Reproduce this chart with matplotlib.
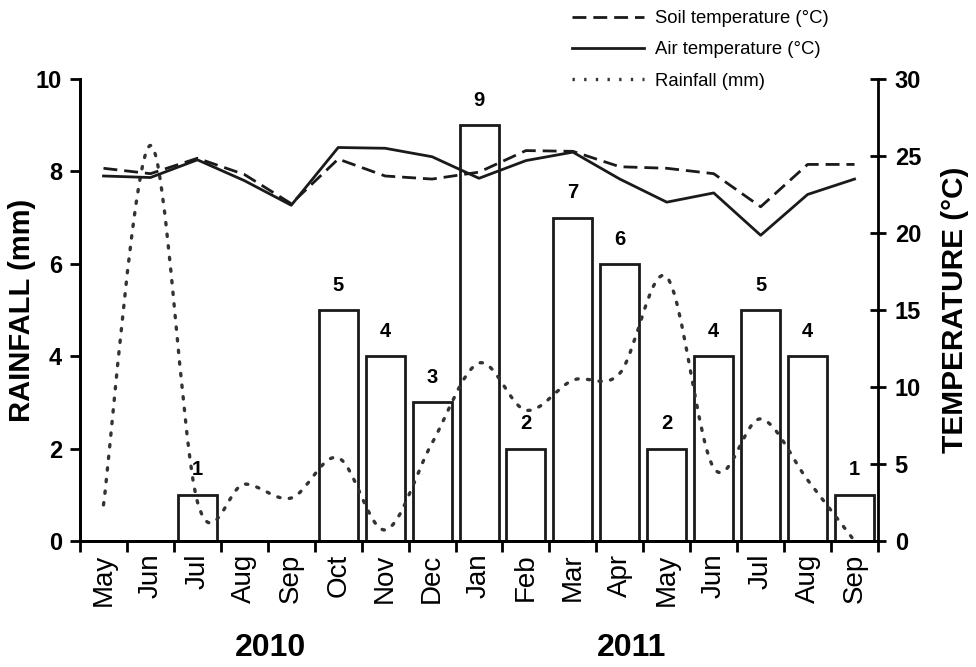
import numpy as np
import matplotlib
matplotlib.use('Agg')
import matplotlib.pyplot as plt
from matplotlib.path import Path
from matplotlib.patches import PathPatch
from matplotlib.lines import Line2D

plt.rcParams['font.family'] = ['Liberation Sans', 'DejaVu Sans']

# DATA
months = ['May', 'Jun', 'Jul', 'Aug', 'Sep', 'Oct', 'Nov', 'Dec',
          'Jan', 'Feb', 'Mar', 'Apr', 'May', 'Jun', 'Jul', 'Aug', 'Sep']
rain_days = [0, 0, 1, 0, 0, 5, 4, 3, 9, 2, 7, 6, 2, 4, 5, 4, 1]
rainfall = [0.78, 8.56, 0.85, 1.23, 0.93, 1.8, 0.24, 2.12, 3.85,
            2.83, 3.48, 3.63, 5.71, 1.58, 2.64, 1.32, 0.0]
air_temp = [23.7, 23.6, 24.75, 23.4, 21.8, 25.55, 25.5, 24.95, 23.55,
            24.7, 25.25, 23.5, 22.0, 22.6, 19.85, 22.5, 23.5]
soil_temp = [24.2, 23.85, 24.85, 23.8, 21.9, 24.8, 23.7, 23.5, 23.95,
             25.35, 25.3, 24.3, 24.2, 23.85, 21.7, 24.45, 24.45]
years = ['2010', '2011']


def smooth_path(xs, ys, t=0.5):
    # Excel-style smoothed line: Catmull-Rom drawn as cubic Bezier curves
    xs = np.asarray(xs, float)
    ys = np.asarray(ys, float)
    n = len(xs)
    verts = [(xs[0], ys[0])]
    codes = [Path.MOVETO]
    for i in range(n - 1):
        x0, y0 = (xs[i - 1], ys[i - 1]) if i > 0 else (xs[i], ys[i])
        x3, y3 = (xs[i + 2], ys[i + 2]) if i < n - 2 else (xs[i + 1], ys[i + 1])
        x1, y1 = xs[i], ys[i]
        x2, y2 = xs[i + 1], ys[i + 1]
        c1 = (x1 + (x2 - x0) * t / 3, y1 + (y2 - y0) * t / 3)
        c2 = (x2 - (x3 - x1) * t / 3, y2 - (y3 - y1) * t / 3)
        verts += [c1, c2, (x2, y2)]
        codes += [Path.CURVE4] * 3
    return Path(verts, codes)


x = np.arange(len(months))

fig = plt.figure(figsize=(9.76, 6.67), dpi=100)
ax = fig.add_axes([0.082, 0.189, 0.8176, 0.6926])
ax2 = ax.twinx()

# bars (left axis)
ax.bar(x, rain_days, width=0.83, facecolor='white', edgecolor='#1a1a1a', linewidth=2)
for xi, v in zip(x, rain_days):
    if v > 0:
        ax.text(xi, v + 0.33, str(v), ha='center', va='bottom',
                fontsize=14.5, fontweight='bold')

# smoothed rainfall line (left axis)
ax.add_patch(PathPatch(smooth_path(x, rainfall), facecolor='none', edgecolor='#333333',
                       linewidth=2.4, linestyle=(0, (0.7, 2.8)), capstyle='round'))

# temperatures (right axis)
ax2.plot(x, soil_temp, color='#1a1a1a', linewidth=2, linestyle=(0, (5, 2.5)))
ax2.plot(x, air_temp, color='#1a1a1a', linewidth=2)

ax.set_xlim(-0.5, len(months) - 0.5)
ax.set_ylim(0, 10)
ax2.set_ylim(0, 30)
ax.set_yticks([0, 2, 4, 6, 8, 10])
ax2.set_yticks([0, 5, 10, 15, 20, 25, 30])

ax.set_xticks(np.arange(len(months) + 1) - 0.5)
ax.set_xticklabels([])
ax.set_xticks(x, minor=True)
ax.set_xticklabels(months, minor=True, rotation=90, fontsize=20)
ax.tick_params(axis='x', which='major', direction='out', length=8, width=2)
ax.tick_params(axis='x', which='minor', length=0, pad=9)
ax.tick_params(axis='y', direction='out', length=7, width=2, labelsize=17, pad=6)
ax2.tick_params(axis='y', direction='inout', length=12, width=2, labelsize=17, pad=6)
for lab in ax.get_yticklabels() + ax2.get_yticklabels():
    lab.set_fontweight('bold')

for a in (ax, ax2):
    a.spines['top'].set_visible(False)
    for s in a.spines.values():
        s.set_linewidth(2)
ax.spines['right'].set_visible(False)

ax.set_ylabel('RAINFALL (mm)', fontsize=21, fontweight='bold', va='center')
ax.yaxis.set_label_coords(-58 / 798, 0.5)
ax2.set_ylabel('TEMPERATURE (°C)', fontsize=21.5, fontweight='bold', va='center')
ax2.yaxis.set_label_coords(1 + 77 / 798, 0.5)

fig.text(270 / 976, 1 - 648 / 667, years[0], ha='center', va='center', fontsize=23, fontweight='bold')
fig.text(632 / 976, 1 - 648 / 667, years[1], ha='center', va='center', fontsize=23, fontweight='bold')

handles = [Line2D([], [], color='#1a1a1a', linewidth=2, linestyle=(0, (5, 2.5))),
           Line2D([], [], color='#1a1a1a', linewidth=2),
           Line2D([], [], color='#333333', linewidth=2.4, linestyle=(0, (0.7, 2.8)))]
fig.legend(handles, ['Soil temperature (°C)', 'Air temperature (°C)', 'Rainfall (mm)'],
           loc='upper left', bbox_to_anchor=(572 / 976, 1 - 10 / 667), frameon=False,
           fontsize=13.3, handlelength=3.9, handletextpad=0.6, labelspacing=0.78,
           borderpad=0, borderaxespad=0)

fig.savefig('out.png', dpi=100)
